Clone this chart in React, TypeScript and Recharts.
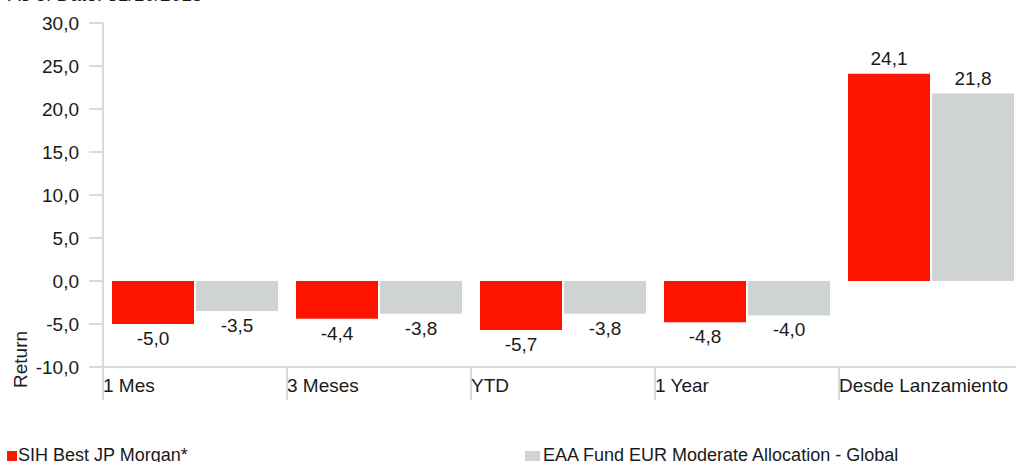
import { BarChart, Bar, XAxis, YAxis, LabelList } from 'recharts';

const categories = ['1 Mes', '3 Meses', 'YTD', '1 Year', 'Desde Lanzamiento'];
const fundReturns = [-5.0, -4.4, -5.7, -4.8, 24.1];
const peerReturns = [-3.5, -3.8, -3.8, -4.0, 21.8];
const yTicks = [-10, -5, 0, 5, 10, 15, 20, 25, 30];
const fundName = 'SIH Best JP Morgan*';
const peerName = 'EAA Fund EUR Moderate Allocation - Global';

const data = categories.map((name, i) => ({ name, fund: fundReturns[i], peer: peerReturns[i] }));

const RED = '#ff1400';
const GREY = '#d0d3d4';
const AXIS = '#d9d9d9';
const INK = '#1a1a1a';
const FONT = '"Liberation Sans", Arial, sans-serif';

const fmt = (v: number) => v.toFixed(1).replace('.', ',');

const BarValue = (props: any) => {
    const { x, y, width, height, value } = props;
    const top = Math.min(y, y + height);
    const bottom = Math.max(y, y + height);
    const ty = value < 0 ? bottom + 21 : top - 9;
    return (
        <text x={x + width / 2} y={ty} textAnchor="middle" fontSize={19} fill={INK} fontFamily={FONT}>
            {fmt(value)}
        </text>
    );
};

// category label sits at the left edge of its band, with a divider line
const CategoryTick = (props: any) => {
    const { x, payload } = props;
    const start = x - 92;
    const axisY = 367;
    return (
        <g>
            <line x1={start} y1={axisY} x2={start} y2={axisY + 33} stroke={AXIS} strokeWidth={2} />
            <text x={start} y={axisY + 25} fontSize={19} fill={INK} fontFamily={FONT}>
                {payload.value}
            </text>
        </g>
    );
};

export default function App() {
    return (
        <div style={{ position: 'absolute', left: 0, top: 0, width: 1016, height: 462, overflow: 'hidden', background: '#fff', fontFamily: FONT }}>
            <div style={{ position: 'absolute', left: 8, top: -15, fontSize: 19, color: INK, lineHeight: '20px' }}>
                As of Date: 31/10/2018
            </div>
            <BarChart
                width={1030}
                height={462}
                data={data}
                margin={{ top: 23, right: 7, bottom: 0, left: 0 }}
                barCategoryGap={9}
                barGap={2}
            >
                <XAxis
                    dataKey="name"
                    axisLine={{ stroke: AXIS, strokeWidth: 2 }}
                    tickLine={false}
                    tick={<CategoryTick />}
                    height={95}
                    interval={0}
                />
                <YAxis
                    domain={[-10, 30]}
                    ticks={yTicks}
                    width={103}
                    axisLine={{ stroke: AXIS, strokeWidth: 2 }}
                    tickLine={{ stroke: AXIS, strokeWidth: 2 }}
                    tickSize={14}
                    tickMargin={10}
                    tickFormatter={fmt}
                    tick={{ fill: INK, fontSize: 19, fontFamily: FONT }}
                    label={{ value: 'Return', angle: -90, position: 'insideLeft', dx: 15, dy: 193, fontSize: 19, fill: INK, fontFamily: FONT }}
                />
                <Bar dataKey="fund" name={fundName} fill={RED} isAnimationActive={false}>
                    <LabelList dataKey="fund" content={<BarValue />} />
                </Bar>
                <Bar dataKey="peer" name={peerName} fill={GREY} isAnimationActive={false}>
                    <LabelList dataKey="peer" content={<BarValue />} />
                </Bar>
            </BarChart>
            <div style={{ position: 'absolute', left: 7, top: 445, display: 'flex', alignItems: 'center', fontSize: 18, color: INK }}>
                <span style={{ display: 'inline-block', width: 10, height: 10, background: RED, marginRight: 1 }} />
                {fundName}
            </div>
            <div style={{ position: 'absolute', left: 525, top: 445, display: 'flex', alignItems: 'center', fontSize: 18, color: INK }}>
                <span style={{ display: 'inline-block', width: 15, height: 10, background: GREY, marginRight: 3 }} />
                {peerName}
            </div>
        </div>
    );
}
